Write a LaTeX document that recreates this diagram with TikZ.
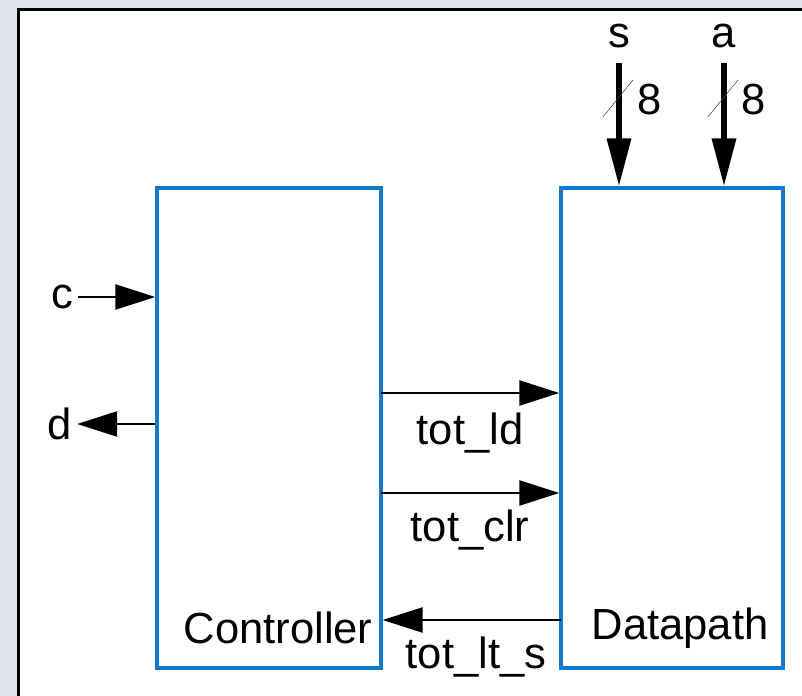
\documentclass[tikz,border=0pt]{standalone}
\usepackage{fontspec}
\setmainfont{Liberation Sans}
\usepackage{tikz}
\usetikzlibrary{arrows.meta, positioning, calc}
\definecolor{myblue}{RGB}{20,120,200}
\definecolor{mydark}{RGB}{0,0,0}
\definecolor{mybg}{RGB}{224,228,234}
\tikzset{
  block/.style={rectangle, draw=myblue, line width=2.3pt, minimum width=5.6cm, minimum height=12cm},
  arrow/.style={-{Triangle[length=1cm, width=0.62cm]}, line width=2pt, color=mydark},
  bus/.style={-{Triangle[length=1.2cm, width=0.58cm]}, line width=4.2pt, color=mydark, shorten <=0.25cm},
  slash/.style={thin, color=mydark!70},
  lbl/.style={font=\fontsize{31}{36}\selectfont}
}
\begin{document}
\begin{tikzpicture}[every node/.style={lbl}]
  % Background and frame
  \useasboundingbox (0,0) rectangle (20.05,17.4);
  \fill[mybg] (0,0) rectangle (20.05,17.4);
  \fill[white] (0.46,0) rectangle (20.05,17.16);
  \draw[line width=2.2pt] (0.46,0) -- (0.46,17.16) -- (20.05,17.16);

  % Blocks
  \node[block] (ctrl) at (6.725,6.7) {};
  \node[block, minimum width=5.55cm] (dp) at (16.8,6.7) {};
  \node (ctrllbl) at (6.95,1.7) {Controller};
  \node (dplbl) at (17.0,1.7) {Datapath};

  % External inputs and outputs of the controller
  \node (c) at (1.55,9.975) {c};
  \node (d) at (1.5,6.8) {d};
  \draw[arrow] (c.east) -- (c.east -| ctrl.west);
  \draw[arrow] (d.east -| ctrl.west) -- (d.east);

  % Control signals
  \coordinate (ld) at (9.525,7.575);
  \coordinate (clr) at (9.525,5.075);
  \coordinate (lts) at (14.025,1.9);
  \draw[arrow] (ld) -- (ld -| dp.west);
  \node (ldlbl) at (11.75,6.575) {tot\_ld};
  \draw[arrow] (clr) -- (clr -| dp.west);
  \node (clrlbl) at (11.75,4.15) {tot\_clr};
  \draw[arrow] (lts) -- (lts -| ctrl.east);
  \node (ltslbl) at (11.9,0.975) {tot\_lt\_s};

  % Data inputs
  \node (s) at (15.475,16.5) {s};
  \node (a) at (18.1,16.5) {a};
  \coordinate (sbus) at (15.475,14.94);
  \coordinate (abus) at (18.1,14.94);
  \draw[bus] (s.south) -- (s.south |- dp.north);
  \draw[bus] (a.south) -- (a.south |- dp.north);
  \draw[slash] ($(sbus)+(-0.4,-0.46)$) -- ($(sbus)+(0.35,0.46)$);
  \draw[slash] ($(abus)+(-0.4,-0.46)$) -- ($(abus)+(0.35,0.46)$);
  \node (sw) at (16.25,14.9) {8};
  \node (aw) at (18.85,14.9) {8};
\end{tikzpicture}
\end{document}
